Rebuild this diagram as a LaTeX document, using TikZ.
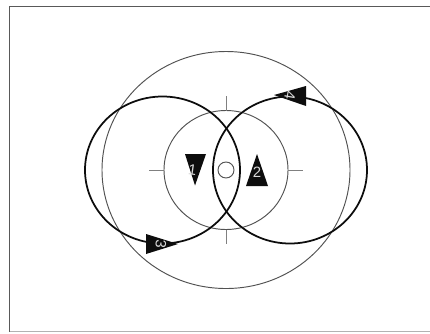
\documentclass[tikz,border=0pt]{standalone}
\usepackage{fontspec}
\setmainfont{Liberation Sans}
\tikzset{
  thinring/.style={draw=black!68,line width=0.95pt},
  heavyring/.style={draw=black!95,line width=1.75pt},
  tickline/.style={draw=black!50,line width=1pt},
  wedge/.style={fill=black!95,draw=none},
  numlabel/.style={text=black!15,font=\fontsize{15}{15}\selectfont,inner sep=0pt}
}
\begin{document}
\begin{tikzpicture}[x=1pt,y=-1pt]
\useasboundingbox (0,0) rectangle (430,333);
\fill[white] (0,0) rectangle (430,333);
\draw[draw=black!65,line width=1.1pt] (430,6.5) -- (9.5,6.5) -- (9.5,331.5);
\draw[draw=black!30,line width=0.9pt] (9.5,331.5) -- (430,331.5);
% rings
\draw[thinring] (226,170) ellipse [x radius=124,y radius=118.5];
\draw[thinring] (226,170) ellipse [x radius=62,y radius=59.5];
\draw[thinring] (226,170) circle [radius=8];
\draw[heavyring] (162.5,170) ellipse [x radius=77.5,y radius=73.5];
\draw[heavyring] (290,170) ellipse [x radius=77,y radius=73.5];
% ticks
\draw[tickline] (226,96) -- (226,110.5);
\draw[tickline] (226,229.5) -- (226,244);
\draw[tickline] (149,170) -- (164,170);
\draw[tickline] (288,170) -- (303,170);
% wedges
\fill[wedge] (185,154) -- (206,154) -- (195,185.5) -- cycle;
\fill[wedge] (246,186) -- (268,186) -- (257,154) -- cycle;
\fill[wedge] (146,234) -- (146,254) -- (178,244) -- cycle;
\fill[wedge] (306,86) -- (306,106) -- (274,95) -- cycle;
% labels
\node[numlabel,rotate=-8] (n1) at (192.5,170) {1};
\node[numlabel] (n2) at (257,172) {2};
\node[numlabel,rotate=-95] (n3) at (161,244.5) {3};
\node[numlabel,rotate=-100] (n4) at (290,95) {4};
\end{tikzpicture}
\end{document}
